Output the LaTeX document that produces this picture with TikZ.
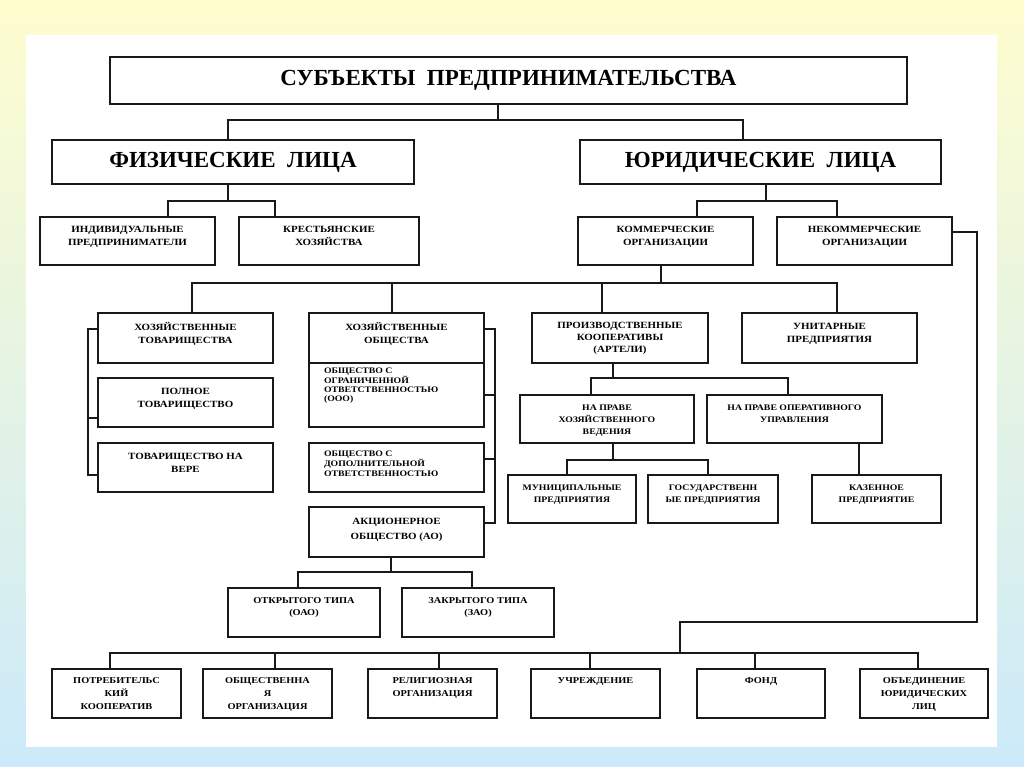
\documentclass[tikz,border=0pt]{standalone}
\usepackage{fontspec}
\setmainfont{Liberation Serif}
\newfontfamily\sfnt[FakeStretch=1.15]{Liberation Serif}
\newfontfamily\bfnt{Liberation Serif}
\definecolor{bgtop}{RGB}{254,253,206}
\definecolor{bgbot}{RGB}{204,234,250}
\definecolor{linec}{RGB}{25,25,25}
\tikzset{
  box/.style={draw=linec, line width=1.3pt, fill=white, inner sep=0pt, outer sep=0pt},
  conn/.style={draw=linec, line width=1.3pt},
  bigbox/.style={box, font=\bfnt\bfseries\fontsize{23}{26}\selectfont}
}
% #1 name, #2 x1, #3 y1, #4 x2, #5 y2, #6 top pad, #7 font size, #8 baselineskip, #9 text
\newcommand{\bx}[9]{%
  \node[box] (#1) at ({(#2+#4)/2},{(#3+#5)/2})
  {\parbox[c][\dimexpr #5pt-#3pt\relax][t]{\dimexpr #4pt-#2pt\relax}{\centering\vspace*{#6pt}\sfnt\bfseries\fontsize{#7}{#8}\selectfont #9\par}};}
\newcommand{\bxl}[9]{%
  \node[box] (#1) at ({(#2+#4)/2},{(#3+#5)/2})
  {\parbox[c][\dimexpr #5pt-#3pt\relax][t]{\dimexpr #4pt-#2pt\relax}{\raggedright\leftskip=15pt\vspace*{#6pt}\sfnt\bfseries\fontsize{#7}{#8}\selectfont #9\par}};}
\begin{document}
\begin{tikzpicture}[x=1pt,y=-1pt]
\useasboundingbox (0,0) rectangle (1024,767);
\shade[top color=bgtop, bottom color=bgbot] (0,0) rectangle (1024,767);
\fill[white] (26,35) rectangle (997,747);

% top level
\node[bigbox, minimum width=797pt, minimum height=47pt] (title) at (508.5,80.5) {СУБЪЕКТЫ\ \ ПРЕДПРИНИМАТЕЛЬСТВА};
\node[bigbox, minimum width=362pt, minimum height=44pt] (fiz) at (233,162) {ФИЗИЧЕСКИЕ\ \ ЛИЦА};
\node[bigbox, minimum width=361pt, minimum height=44pt] (yur) at (760.5,162) {ЮРИДИЧЕСКИЕ\ \ ЛИЦА};

% second level
\bx{ip}{40}{217}{215}{265}{9}{9.5}{13}{ИНДИВИДУАЛЬНЫЕ\\ПРЕДПРИНИМАТЕЛИ}
\bx{kh}{239}{217}{419}{265}{9}{9.5}{13}{КРЕСТЬЯНСКИЕ\\ХОЗЯЙСТВА}
\bx{kom}{578}{217}{753}{265}{9}{9.5}{13}{КОММЕРЧЕСКИЕ\\ОРГАНИЗАЦИИ}
\bx{nekom}{777}{217}{952}{265}{9}{9.5}{13}{НЕКОММЕРЧЕСКИЕ\\ОРГАНИЗАЦИИ}

% commercial
\bx{ht}{98}{313}{273}{363}{9}{9.5}{13}{ХОЗЯЙСТВЕННЫЕ\\ТОВАРИЩЕСТВА}
\bx{pt}{98}{378}{273}{427}{10}{9.5}{13}{ПОЛНОЕ\\ТОВАРИЩЕСТВО}
\bx{tv}{98}{443}{273}{492}{10}{9.5}{13}{ТОВАРИЩЕСТВО НА\\ВЕРЕ}
\bx{ho}{309}{313}{484}{363}{9}{9.5}{13}{ХОЗЯЙСТВЕННЫЕ\\ОБЩЕСТВА}
\bxl{ooo}{309}{363}{484}{427}{5}{8.5}{9}{ОБЩЕСТВО С\\ОГРАНИЧЕННОЙ\\ОТВЕТСТВЕННОСТЬЮ\\(ООО)}
\bxl{odo}{309}{443}{484}{492}{8}{8.5}{10}{ОБЩЕСТВО С\\ДОПОЛНИТЕЛЬНОЙ\\ОТВЕТСТВЕННОСТЬЮ}
\bx{ao}{309}{507}{484}{557}{11}{9.5}{15}{АКЦИОНЕРНОЕ\\ОБЩЕСТВО (АО)}
\bx{pk}{532}{313}{708}{363}{9}{9.5}{12}{ПРОИЗВОДСТВЕННЫЕ\\КООПЕРАТИВЫ\\(АРТЕЛИ)}
\bx{up}{742}{313}{917}{363}{10}{9.5}{13}{УНИТАРНЫЕ\\ПРЕДПРИЯТИЯ}
\bx{hv}{520}{395}{694}{443}{10}{8.5}{12}{НА ПРАВЕ\\ХОЗЯЙСТВЕННОГО\\ВЕДЕНИЯ}
\bx{ou}{707}{395}{882}{443}{10}{8.5}{12}{НА ПРАВЕ ОПЕРАТИВНОГО\\УПРАВЛЕНИЯ}
\bx{mp}{508}{475}{636}{523}{10}{8.5}{12}{МУНИЦИПАЛЬНЫЕ\\ПРЕДПРИЯТИЯ}
\bx{gp}{648}{475}{778}{523}{10}{8.5}{12}{ГОСУДАРСТВЕНН\\ЫЕ ПРЕДПРИЯТИЯ}
\bx{kp}{812}{475}{941}{523}{10}{8.5}{12}{КАЗЕННОЕ\\ПРЕДПРИЯТИЕ}
\bx{oao}{228}{588}{380}{637}{10}{9}{12}{ОТКРЫТОГО ТИПА\\(ОАО)}
\bx{zao}{402}{588}{554}{637}{10}{9}{12}{ЗАКРЫТОГО ТИПА\\(ЗАО)}

% non-commercial
\bx{potr}{52}{669}{181}{718}{9}{9}{13}{ПОТРЕБИТЕЛЬС\\КИЙ\\КООПЕРАТИВ}
\bx{obsh}{203}{669}{332}{718}{9}{9}{13}{ОБЩЕСТВЕННА\\Я\\ОРГАНИЗАЦИЯ}
\bx{rel}{368}{669}{497}{718}{9}{9}{13}{РЕЛИГИОЗНАЯ\\ОРГАНИЗАЦИЯ}
\bx{uch}{531}{669}{660}{718}{9}{9}{13}{УЧРЕЖДЕНИЕ}
\bx{fond}{697}{669}{825}{718}{9}{9}{13}{ФОНД}
\bx{obj}{860}{669}{988}{718}{9}{9}{13}{ОБЪЕДИНЕНИЕ\\ЮРИДИЧЕСКИХ\\ЛИЦ}

% junction coordinates
\coordinate (t0) at (498,120);
\coordinate (t1) at (228,120); \coordinate (t2) at (743,120);
\coordinate (f0) at (228,201); \coordinate (f1) at (168,201); \coordinate (f2) at (275,201);
\coordinate (y0) at (766,201); \coordinate (y1) at (697,201); \coordinate (y2) at (837,201);
\coordinate (n1) at (977,232); \coordinate (n2) at (977,622); \coordinate (n3) at (680,622); \coordinate (n4) at (680,653);
\coordinate (bL) at (110,653); \coordinate (bR) at (918,653);
\coordinate (b2) at (275,653); \coordinate (b3) at (439,653); \coordinate (b4) at (590,653); \coordinate (b5) at (755,653);
\coordinate (k0) at (661,283); \coordinate (kL) at (192,283); \coordinate (kR) at (837,283);
\coordinate (kH) at (392,283); \coordinate (kP) at (602,283);
\coordinate (l1) at (88,329); \coordinate (l2) at (88,418); \coordinate (l3) at (88,475);
\coordinate (r1) at (495,329); \coordinate (r2) at (495,395); \coordinate (r3) at (495,459); \coordinate (r4) at (495,523);
\coordinate (a0) at (391,572); \coordinate (aL) at (298,572); \coordinate (aR) at (472,572);
\coordinate (p0) at (613,378); \coordinate (pL) at (591,378); \coordinate (pR) at (788,378);
\coordinate (h0) at (613,460); \coordinate (hL) at (567,460); \coordinate (hR) at (708,460);
\coordinate (o0) at (859,460);

% connectors
\draw[conn] (title.south -| t0) -- (t0);
\draw[conn] (fiz.north -| t1) -- (t1) -- (t2) -- (yur.north -| t2);
\draw[conn] (fiz.south -| f0) -- (f0);
\draw[conn] (ip.north -| f1) -- (f1) -- (f2) -- (kh.north -| f2);
\draw[conn] (yur.south -| y0) -- (y0);
\draw[conn] (kom.north -| y1) -- (y1) -- (y2) -- (nekom.north -| y2);
\draw[conn] (nekom.east |- n1) -- (n1) -- (n2) -- (n3) -- (n4);
\draw[conn] (potr.north -| bL) -- (bL) -- (bR) -- (obj.north -| bR);
\draw[conn] (b2) -- (obsh.north -| b2);
\draw[conn] (b3) -- (rel.north -| b3);
\draw[conn] (b4) -- (uch.north -| b4);
\draw[conn] (b5) -- (fond.north -| b5);
\draw[conn] (kom.south -| k0) -- (k0);
\draw[conn] (ht.north -| kL) -- (kL) -- (kR) -- (up.north -| kR);
\draw[conn] (kH) -- (ho.north -| kH);
\draw[conn] (kP) -- (pk.north -| kP);
\draw[conn] (ht.west |- l1) -- (l1) -- (l3) -- (tv.west |- l3);
\draw[conn] (l2) -- (pt.west |- l2);
\draw[conn] (ho.east |- r1) -- (r1) -- (r4) -- (ao.east |- r4);
\draw[conn] (ooo.east |- r2) -- (r2);
\draw[conn] (odo.east |- r3) -- (r3);
\draw[conn] (ao.south -| a0) -- (a0);
\draw[conn] (oao.north -| aL) -- (aL) -- (aR) -- (zao.north -| aR);
\draw[conn] (pk.south -| p0) -- (p0);
\draw[conn] (hv.north -| pL) -- (pL) -- (pR) -- (ou.north -| pR);
\draw[conn] (hv.south -| h0) -- (h0);
\draw[conn] (mp.north -| hL) -- (hL) -- (hR) -- (gp.north -| hR);
\draw[conn] (ou.south -| o0) -- (kp.north -| o0);
\end{tikzpicture}
\end{document}
